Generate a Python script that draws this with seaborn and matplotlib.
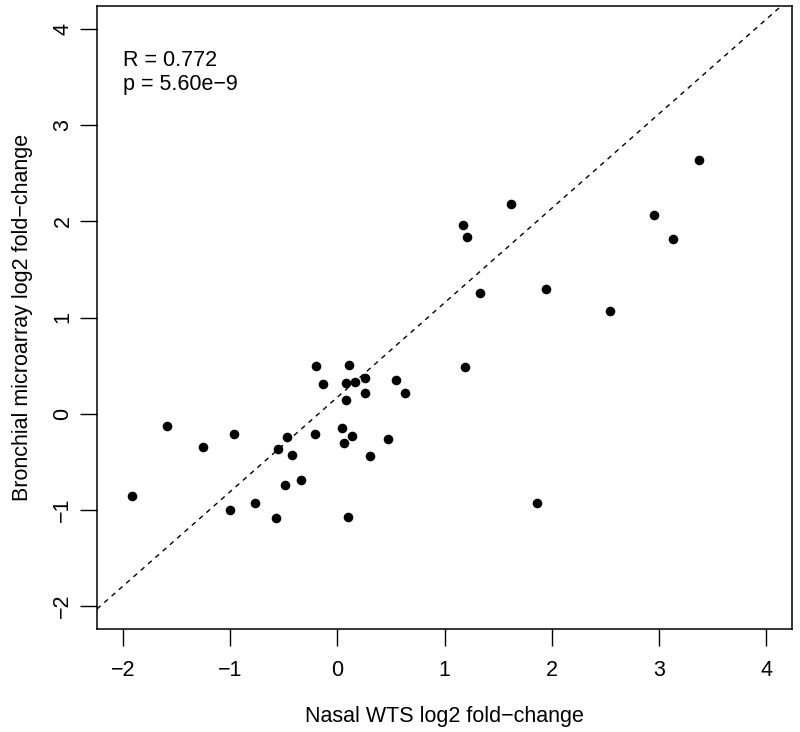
import matplotlib
matplotlib.use("Agg")
import matplotlib.pyplot as plt
import seaborn as sns
import pandas as pd
import numpy as np

sns.set_theme(style="white")
plt.rcParams['font.family'] = ['Liberation Sans', 'DejaVu Sans']

nasal_wts = [-1.91, -1.59, -1.25, -0.96, -1.00, -0.77, -0.57, -0.55, -0.49, -0.47,
             -0.20, 0.11, -0.13, 0.08, 0.17, 0.26, 0.55, 0.26, 0.63, 0.08,
             -0.42, -0.21, 0.04, 0.14, 0.06, 0.47, 0.31, -0.34, 0.10,
             1.17, 1.21, 1.62, 1.33, 1.95, 2.54, 2.95, 3.13, 3.37, 1.19, 1.86]
bronchial = [-0.86, -0.13, -0.35, -0.21, -1.00, -0.93, -1.09, -0.37, -0.74, -0.24,
             0.50, 0.51, 0.31, 0.32, 0.33, 0.37, 0.35, 0.21, 0.21, 0.14,
             -0.43, -0.21, -0.15, -0.23, -0.31, -0.26, -0.44, -0.69, -1.07,
             1.96, 1.84, 2.18, 1.25, 1.30, 1.07, 2.07, 1.82, 2.64, 0.48, -0.93]
ticks = [-2, -1, 0, 1, 2, 3, 4]
line_intercept = 0.17
line_slope = 0.983
stats_text = "R = 0.772\np = 5.60e\u22129"

df = pd.DataFrame({"x": nasal_wts, "y": bronchial})

fig = plt.figure(figsize=(8, 7.32), dpi=100)
ax = fig.add_axes([0.12125, 0.1407, 0.99 - 0.12125, 0.9918 - 0.1407])

sns.scatterplot(data=df, x="x", y="y", ax=ax, color="black", s=48,
                edgecolor="black", linewidth=0, zorder=3)

lim = (-2.24, 4.24)
ax.set_xlim(lim)
ax.set_ylim(lim)
ax.axline((0, line_intercept), slope=line_slope, color="black",
          linestyle=(0, (3.5, 3.5)), linewidth=1.0, zorder=2)

ax.set_xticks(ticks)
ax.set_yticks(ticks)
minus = "\u2212"
labels = [f"{minus}{abs(t)}" if t < 0 else str(t) for t in ticks]
ax.set_xticklabels(labels)
ax.set_yticklabels(labels, rotation=90, va="center")
ax.tick_params(axis="both", direction="out", length=12, width=1, color="black",
               labelsize=15.5, labelcolor="black", bottom=True, left=True)
ax.tick_params(axis="x", pad=10)
ax.tick_params(axis="y", pad=5)

for sp in ax.spines.values():
    sp.set_visible(True)
    sp.set_color("black")
    sp.set_linewidth(1.1)

ax.set_xlabel("Nasal WTS log2 fold\u2212change", fontsize=15.5, labelpad=18, color="black")
ax.set_ylabel("Bronchial microarray log2 fold\u2212change", fontsize=15.5, labelpad=14, color="black")

ax.text(0.037, 0.93, stats_text, transform=ax.transAxes, fontsize=15.5,
        va="top", ha="left", linespacing=1.2, color="black")

fig.savefig("out.png", dpi=100)
